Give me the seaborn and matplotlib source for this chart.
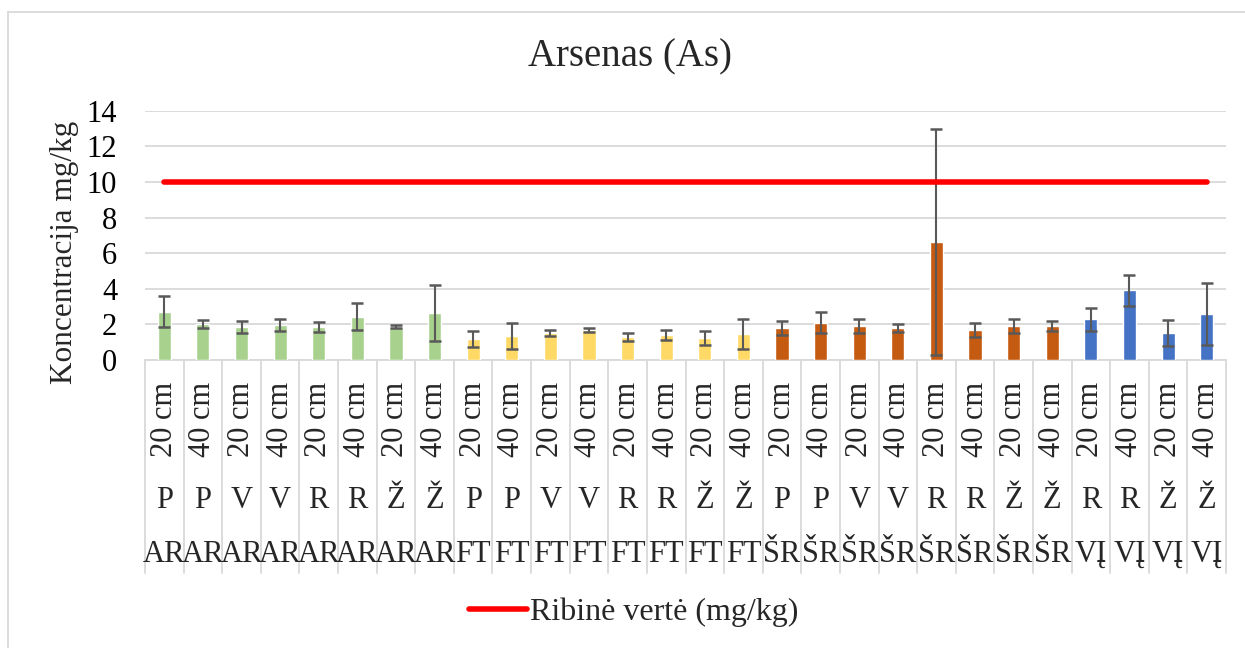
import matplotlib
matplotlib.use("Agg")
import matplotlib.pyplot as plt
import matplotlib.transforms as mtransforms
from matplotlib.lines import Line2D
import numpy as np
import pandas as pd
import seaborn as sns

# Sampling site groups, land-use letters and depths for each bar
groups = ["AR"] * 8 + ["FT"] * 8 + ["ŠR"] * 8 + ["VĮ"] * 4
letters = ["P", "P", "V", "V", "R", "R", "Ž", "Ž",
           "P", "P", "V", "V", "R", "R", "Ž", "Ž",
           "P", "P", "V", "V", "R", "R", "Ž", "Ž",
           "R", "R", "Ž", "Ž"]
depths = ["20 cm", "40 cm"] * 14

# Mean arsenic concentration (mg/kg) and standard deviation
values = [2.70, 2.02, 1.85, 1.97, 1.85, 2.42, 1.86, 2.64,
          1.18, 1.35, 1.50, 1.69, 1.29, 1.40, 1.24, 1.46,
          1.80, 2.08, 1.91, 1.80, 6.63, 1.69, 1.91, 1.91,
          2.28, 3.93, 1.50, 2.58]
errors = [0.87, 0.24, 0.36, 0.36, 0.29, 0.76, 0.08, 1.58,
          0.47, 0.74, 0.16, 0.12, 0.23, 0.28, 0.37, 0.86,
          0.40, 0.59, 0.38, 0.21, 6.35, 0.38, 0.37, 0.28,
          0.66, 0.87, 0.73, 1.72]

limit_value = 10
limit_label = "Ribinė vertė (mg/kg)"
title = "Arsenas (As)"
ylabel = "Koncentracija mg/kg"
group_colors = {"AR": "#A9D18E", "FT": "#FFD966", "ŠR": "#C55A11", "VĮ": "#4472C4"}

sns.set_theme(style="white")
plt.rcParams["font.family"] = ["Liberation Serif", "DejaVu Serif"]

keys = [f"{g}|{l}|{d}|{i}" for i, (g, l, d) in enumerate(zip(groups, letters, depths))]
df = pd.DataFrame({"key": keys, "group": groups, "value": values, "err": errors})

W, H = 1245, 648
fig = plt.figure(figsize=(W / 100, H / 100), dpi=100)
ax_left, ax_right, ax_top, ax_bottom = 145, 1226, 110.7, 360
ax = fig.add_axes([ax_left / W, 1 - ax_bottom / H,
                   (ax_right - ax_left) / W, (ax_bottom - ax_top) / H])

sns.barplot(data=df, x="key", y="value", hue="group", order=keys,
            palette=group_colors, dodge=False, width=0.34, legend=False,
            saturation=1, ax=ax, zorder=3)

xpos = np.arange(len(keys))
ax.errorbar(xpos, df["value"], yerr=df["err"], fmt="none", ecolor="#595959",
            elinewidth=1.5, capsize=4.3, capthick=1.8, zorder=4)

line, = ax.plot([xpos[0], xpos[-1]], [limit_value, limit_value], color="#FF0000",
                lw=4, solid_capstyle="round", zorder=5, label=limit_label)

ax.set_xlim(-0.5, len(keys) - 0.5)
ax.set_ylim(0, 14)
ax.set_yticks(np.arange(0, 15, 2))
ax.set_xticks([])
ax.set_xlabel("")
ax.set_ylabel("")
ax.grid(axis="y", color="#D9D9D9", lw=1.3, zorder=0)
ax.set_axisbelow(True)
for s in ["left", "right", "top"]:
    ax.spines[s].set_visible(False)
ax.spines["bottom"].set_color("#D9D9D9")
ax.spines["bottom"].set_linewidth(1.3)
ax.tick_params(axis="y", length=0, pad=20, labelsize=22, colors="black")

# Multi-level category labels below the axis
trans = mtransforms.blended_transform_factory(ax.transData, fig.transFigure)
for i, (g, l, d) in enumerate(zip(groups, letters, depths)):
    ax.text(i, 1 - 419 / H, d, rotation=90, ha="center", va="center",
            fontsize=22, transform=trans, clip_on=False)
    ax.text(i, 1 - 500 / H, l, ha="center", va="center",
            fontsize=22, transform=trans, clip_on=False)
    ax.text(i, 1 - 554 / H, g, ha="center", va="center",
            fontsize=22, transform=trans, clip_on=False)
for b in np.arange(-0.5, len(keys)):
    ax.add_line(Line2D([b, b], [1 - ax_bottom / H, 1 - 573 / H], transform=trans,
                       color="#D9D9D9", lw=1.3, clip_on=False))

fig.text(630 / W, 1 - 57 / H, title, ha="center", va="center", fontsize=28)
fig.text(65 / W, 1 - 252 / H, ylabel, rotation=90, ha="center", va="center",
         fontsize=22.5)

fig.legend(handles=[line], loc="center", bbox_to_anchor=(634 / W, 1 - 612 / H),
           frameon=False, fontsize=23, handlelength=1.8, handletextpad=0.1)

# Chart-area border
border_color = "#D9D9D9"
fig.add_artist(Line2D([8 / W, 8 / W], [0, 1 - 12 / H], transform=fig.transFigure,
                      color=border_color, lw=1.3))
fig.add_artist(Line2D([8 / W, 1], [1 - 12 / H, 1 - 12 / H], transform=fig.transFigure,
                      color=border_color, lw=1.3))

fig.savefig("out.png", dpi=100)
